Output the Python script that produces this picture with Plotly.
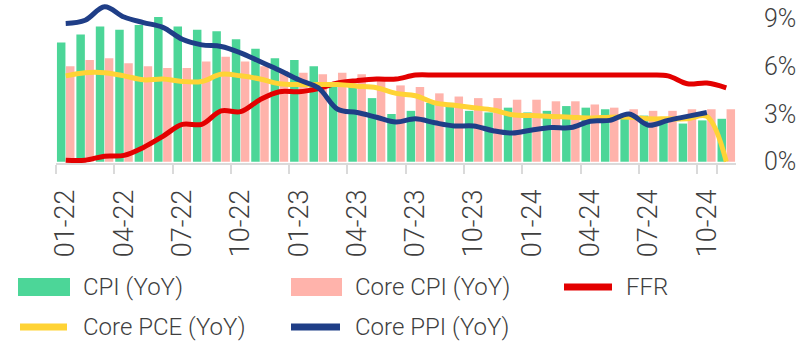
import plotly.graph_objects as go

# Monthly categories, Jan 2022 through Nov 2024
months = [f"{m:02d}-{y}" for y in (22, 23, 24) for m in range(1, 13)][:35]
tick_months = months[::3]

cpi = [7.5, 8.0, 8.5, 8.3, 8.6, 9.1, 8.5, 8.3, 8.2, 7.7, 7.1, 6.5,
       6.4, 6.0, 5.0, 4.9, 4.0, 3.0, 3.2, 3.7, 3.7, 3.2, 3.1, 3.4,
       3.1, 3.2, 3.5, 3.4, 3.3, 3.0, 2.9, 2.5, 2.4, 2.6, 2.7]

core_cpi = [6.0, 6.4, 6.5, 6.2, 6.0, 5.9, 5.9, 6.3, 6.6, 6.3, 6.0, 5.7,
            5.6, 5.5, 5.6, 5.5, 5.3, 4.8, 4.7, 4.3, 4.1, 4.0, 4.0, 3.9,
            3.9, 3.8, 3.8, 3.6, 3.4, 3.3, 3.2, 3.2, 3.3, 3.3, 3.3]

ffr = [0.1, 0.1, 0.35, 0.4, 0.9, 1.6, 2.35, 2.35, 3.2, 3.15, 3.9, 4.4,
       4.4, 4.6, 4.95, 5.1, 5.2, 5.2, 5.45, 5.45, 5.45, 5.45, 5.45, 5.45,
       5.45, 5.45, 5.45, 5.45, 5.45, 5.45, 5.45, 5.4, 4.9, 4.95, 4.65]

core_pce = [5.4, 5.6, 5.6, 5.4, 5.15, 5.2, 5.05, 5.05, 5.5, 5.4, 5.2, 4.9,
            4.85, 4.85, 4.85, 4.75, 4.65, 4.3, 4.15, 3.7, 3.55, 3.4, 3.25, 2.95,
            2.9, 2.85, 2.8, 2.75, 2.8, 2.8, 2.7, 2.7, 2.7, 2.85, 0.0]

core_ppi = [8.7, 8.9, 9.75, 9.1, 8.75, 8.45, 7.7, 7.35, 7.25, 6.85, 6.3, 5.75,
            5.15, 4.65, 3.3, 3.1, 2.8, 2.5, 2.7, 2.45, 2.25, 2.25, 1.95, 1.8,
            2.0, 2.15, 2.15, 2.55, 2.6, 3.0, 2.3, 2.6, 2.85, 3.1, None]

y_ticks = [0, 3, 6, 9]
y_tick_text = [f"{v}%" for v in y_ticks]

GREEN = "#4CD698"
PINK = "#FFB3AB"
RED = "#E30000"
YELLOW = "#FFD335"
BLUE = "#1F3E87"
TEXT = "#3F3F3F"
AXIS = "#DADADA"
FONT = "Roboto"

W, H = 811, 343
ML, MR, MT, MB = 56, 52, 0, 180
PW, PH = W - ML - MR, H - MT - MB
BARS_RIGHT = 736   # right edge of the bar area
Y_LABEL_X = 762    # left edge of the percentage labels


def px(x):
    return (x - ML) / PW


def py(y):
    return (H - MB - y) / PH


fig = go.Figure()
fig.add_trace(go.Bar(x=months, y=cpi, name="CPI (YoY)", marker_color=GREEN,
                     marker_line_width=0, showlegend=False))
fig.add_trace(go.Bar(x=months, y=core_cpi, name="Core CPI (YoY)", marker_color=PINK,
                     marker_line_width=0, showlegend=False))

for name, vals, color in [("FFR", ffr, RED),
                          ("Core PCE (YoY)", core_pce, YELLOW),
                          ("Core PPI (YoY)", core_ppi, BLUE)]:
    fig.add_trace(go.Scatter(x=months, y=vals, name=name, mode="lines",
                             line=dict(color=color, width=5, shape="spline", smoothing=1),
                             showlegend=False))

# Percentage scale on the right, placed on the y data scale
for v, t in zip(y_ticks, y_tick_text):
    fig.add_annotation(text=t, xref="paper", yref="y", x=px(Y_LABEL_X), y=v,
                       xanchor="left", yanchor="middle", showarrow=False,
                       font=dict(family=FONT, size=25, color=TEXT, weight=300))

# Legend drawn below the plot: swatches plus labels
legend_items = [
    ("rect", GREEN, "CPI (YoY)", 18, 70, 287, 81),
    ("rect", PINK, "Core CPI (YoY)", 291, 342, 287, 353),
    ("line", RED, "FFR", 561, 615, 287, 624),
    ("line", YELLOW, "Core PCE (YoY)", 17, 70, 327, 81),
    ("line", BLUE, "Core PPI (YoY)", 288, 343, 327, 353),
]
for kind, color, label, x0, x1, yc, tx in legend_items:
    if kind == "rect":
        fig.add_shape(type="rect", xref="paper", yref="paper",
                      x0=px(x0), x1=px(x1), y0=py(yc + 9), y1=py(yc - 9),
                      fillcolor=color, line_width=0)
    else:
        fig.add_shape(type="line", xref="paper", yref="paper",
                      x0=px(x0 + 3), x1=px(x1 - 3), y0=py(yc), y1=py(yc),
                      line=dict(color=color, width=7))
    fig.add_annotation(text=label, xref="paper", yref="paper", x=px(tx), y=py(yc),
                       xanchor="left", yanchor="middle", showarrow=False,
                       font=dict(family=FONT, size=24, color=TEXT, weight=300))

fig.update_layout(
    width=W, height=H,
    margin=dict(l=ML, r=MR, t=MT, b=MB, pad=0),
    paper_bgcolor="white", plot_bgcolor="white",
    barmode="group", bargap=0.07, bargroupgap=0.06,
    showlegend=False,
    font=dict(family=FONT, color=TEXT, weight=300),
)
fig.update_xaxes(
    type="category", range=[-0.5, 34.5], domain=[0, px(BARS_RIGHT)],
    tickmode="array", tickvals=tick_months, ticktext=tick_months,
    tickangle=-90, tickson="boundaries",
    ticks="outside", ticklen=9, tickwidth=1.5, tickcolor=AXIS,
    ticklabelstandoff=14,
    showline=True, linecolor=AXIS, linewidth=1.5,
    showgrid=False, zeroline=False,
    tickfont=dict(family=FONT, size=27, color=TEXT, weight=300),
)
fig.update_yaxes(
    range=[-0.08, 10.17], showticklabels=False, ticks="",
    showline=False, showgrid=False, zeroline=False,
)

fig.write_html("out.html")
